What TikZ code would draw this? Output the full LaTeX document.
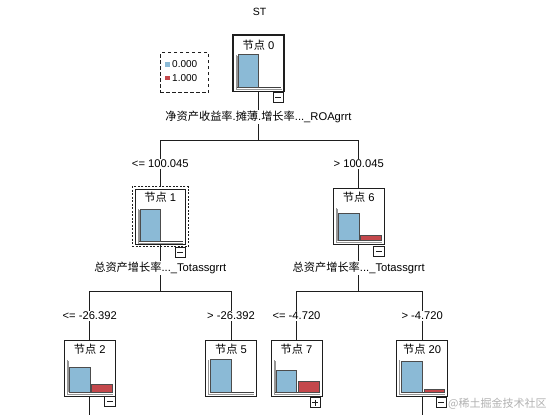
\documentclass[tikz,border=0pt]{standalone}
\usepackage{fontspec}
\setmainfont{Liberation Sans}
\newfontfamily\cjk{Noto Sans CJK SC}
\usetikzlibrary{calc}
\definecolor{barblue}{RGB}{139,186,214}
\definecolor{barred}{RGB}{196,72,76}
\definecolor{axisgrey}{RGB}{150,150,150}
\definecolor{linedark}{RGB}{30,30,30}
\tikzset{
  treebox/.style={draw=linedark, line width=0.8pt, minimum width=51pt, minimum height=56.5pt, inner sep=0pt, outer sep=0pt, fill=white},
  togglebox/.style={draw=linedark, line width=0.7pt, minimum width=10.5pt, minimum height=10pt, inner sep=0pt, outer sep=0pt, fill=white},
  edge/.style={draw=linedark, line width=0.7pt},
  lab/.style={fill=white, inner sep=1pt, font=\fontsize{11.2}{13}\selectfont},
  boxtitle/.style={inner sep=0pt, font=\fontsize{11.2}{13}\selectfont},
  legtext/.style={anchor=west, inner sep=0pt, font=\fontsize{10}{12}\selectfont},
}
\newcommand\drawchart[3]{%
  \draw[axisgrey, line width=0.6pt] ($(#1.north west)+(3,20)$) -- ($(#1.north west)+(3,54.2)$) -- ($(#1.north west)+(48.5,54.2)$);
  \draw[black!75, line width=0.6pt] ($(#1.north west)+(4.3,52.3)$) -- ($(#1.north west)+(48,52.3)$);
  \draw[axisgrey, line width=0.5pt] ($(#1.north west)+(4.3,21)$) -- ($(#1.north west)+(4.3,52.3)$);
  \filldraw[fill=barblue, draw=black!70, line width=0.5pt] ($(#1.north west)+(5,52.3)$) rectangle ($(#1.north west)+(25.7,52.3-#2)$);
  \ifdim#3pt>0pt
    \filldraw[fill=barred, draw=black!70, line width=0.5pt] ($(#1.north west)+(27.4,52.3)$) rectangle ($(#1.north west)+(48,52.3-#3)$);
  \fi
}
\newcommand\minusmark[1]{\draw[linedark, line width=0.8pt] ($(#1.center)+(-3,0)$) -- ($(#1.center)+(3,0)$);}
\newcommand\plusmark[1]{\draw[linedark, line width=0.8pt] ($(#1.center)+(-3,0)$) -- ($(#1.center)+(3,0)$) ($(#1.center)+(0,-3)$) -- ($(#1.center)+(0,3)$);}
\begin{document}
\begin{tikzpicture}[x=1pt,y=-1pt]
\useasboundingbox[fill=white] (0,0) rectangle (554,415);

% title
\node[inner sep=0pt, font=\fontsize{10.5}{12}\selectfont] (title) at (259.5,12) {ST};

% legend
\node[draw=linedark, dash pattern=on 3.5pt off 2.5pt, line width=0.8pt, minimum width=48.3pt, minimum height=40pt, anchor=north west, inner sep=0pt] (leg) at (160,52.3) {};
\node[fill=barblue, minimum size=4.5pt, inner sep=0pt] (legb) at (167.3,64.5) {};
\node[fill=barred, minimum size=4.5pt, inner sep=0pt] (legr) at (167.3,78) {};
\node[legtext] (legbt) at (172,64.5) {0.000};
\node[legtext] (legrt) at (172,78) {1.000};

% tree boxes
\node[treebox, line width=1.8pt, anchor=north] (n0) at (258.5,35) {};
\node[draw=linedark, dash pattern=on 2pt off 1.5pt, line width=0.7pt, minimum width=56pt, minimum height=60pt, inner sep=0pt] (n1sel) at (160.3,216.7) {};
\node[treebox, minimum width=50.7pt, minimum height=55pt] (n1) at (160.3,216.5) {};
\node[treebox, anchor=north] (n6) at (358.7,188.3) {};
\node[treebox, anchor=north] (n2) at (89.7,340) {};
\node[treebox, anchor=north] (n5) at (231,340) {};
\node[treebox, anchor=north] (n7) at (296.5,340) {};
\node[treebox, anchor=north] (n20) at (422.2,340) {};

% split points and free ends
\coordinate (s0) at (258.5,140);
\coordinate (s1) at (160.3,291.7);
\coordinate (s6) at (358.7,291.7);
\coordinate (e2) at (89.7,415);
\coordinate (e20) at (422.2,415);

% connectors
\draw[edge] (n0.south) -- (s0);
\draw[edge] (s0) -| (n1sel.north);
\draw[edge] (s0) -| (n6.north);
\draw[edge] (n1.south) -- (s1);
\draw[edge] (s1) -| (n2.north);
\draw[edge] (s1) -| (n5.north);
\draw[edge] (n6.south) -- (s6);
\draw[edge] (s6) -| (n7.north);
\draw[edge] (s6) -| (n20.north);
\draw[edge] (n2.south) -- (e2);
\draw[edge] (n20.south) -- (e20);

% box contents
\node[boxtitle] (n0t) at ($(n0.north)+(0,10.5)$) {{\cjk 节点} 0};
\node[boxtitle] (n1t) at ($(n1.north)+(0,8)$) {{\cjk 节点} 1};
\node[boxtitle] (n6t) at ($(n6.north)+(0,8.5)$) {{\cjk 节点} 6};
\node[boxtitle] (n2t) at ($(n2.north)+(0,9.3)$) {{\cjk 节点} 2};
\node[boxtitle] (n5t) at ($(n5.north)+(0,9.3)$) {{\cjk 节点} 5};
\node[boxtitle] (n7t) at ($(n7.north)+(0,9.3)$) {{\cjk 节点} 7};
\node[boxtitle] (n20t) at ($(n20.north)+(0,9.3)$) {{\cjk 节点} 20};

\drawchart{n0}{32.6}{0}
\drawchart{n1}{32.3}{0}
\drawchart{n6}{27.7}{5}
\drawchart{n2}{25}{8}
\drawchart{n5}{33}{0}
\drawchart{n7}{21.6}{11.3}
\drawchart{n20}{30.6}{3}

% toggles
\node[togglebox, anchor=north east] (n0m) at ($(n0.south east)+(-0.5,0.5)$) {};
\minusmark{n0m}
\node[togglebox, anchor=north east] (n1m) at (n1.south east |- n1sel.south) {};
\minusmark{n1m}
\node[togglebox, anchor=north east] (n6m) at ($(n6.south east)+(0,1.5)$) {};
\minusmark{n6m}
\node[togglebox, anchor=north east] (n2m) at ($(n2.south east)+(0,0.3)$) {};
\minusmark{n2m}
\node[togglebox, anchor=north east] (n7m) at ($(n7.south east)+(-1.5,1)$) {};
\plusmark{n7m}
\node[togglebox, anchor=north east] (n20m) at ($(n20.south east)+(-1,1)$) {};
\minusmark{n20m}

% split labels
\node[lab] (v0) at (258.5,117) {{\cjk 净资产收益率}.{\cjk 摊薄}.{\cjk 增长率}...\_ROAgrrt};
\node[lab] (v1) at (160.3,268) {{\cjk 总资产增长率}...\_Totassgrrt};
\node[lab] (v6) at (358.7,268) {{\cjk 总资产增长率}...\_Totassgrrt};

% branch labels
\node[lab] (b1) at (160.3,164) {<= 100.045};
\node[lab] (b6) at (358.7,164) {> 100.045};
\node[lab] (b2) at (89.7,316) {<= -26.392};
\node[lab] (b5) at (231,316) {> -26.392};
\node[lab] (b7) at (296.5,316) {<= -4.720};
\node[lab] (b20) at (422.2,316) {> -4.720};

% watermark
\node[anchor=west, inner sep=0pt, text=black!30, font=\cjk\fontsize{11}{13}\selectfont] (wm) at (448,403.5) {@稀土掘金技术社区};
\end{tikzpicture}
\end{document}
